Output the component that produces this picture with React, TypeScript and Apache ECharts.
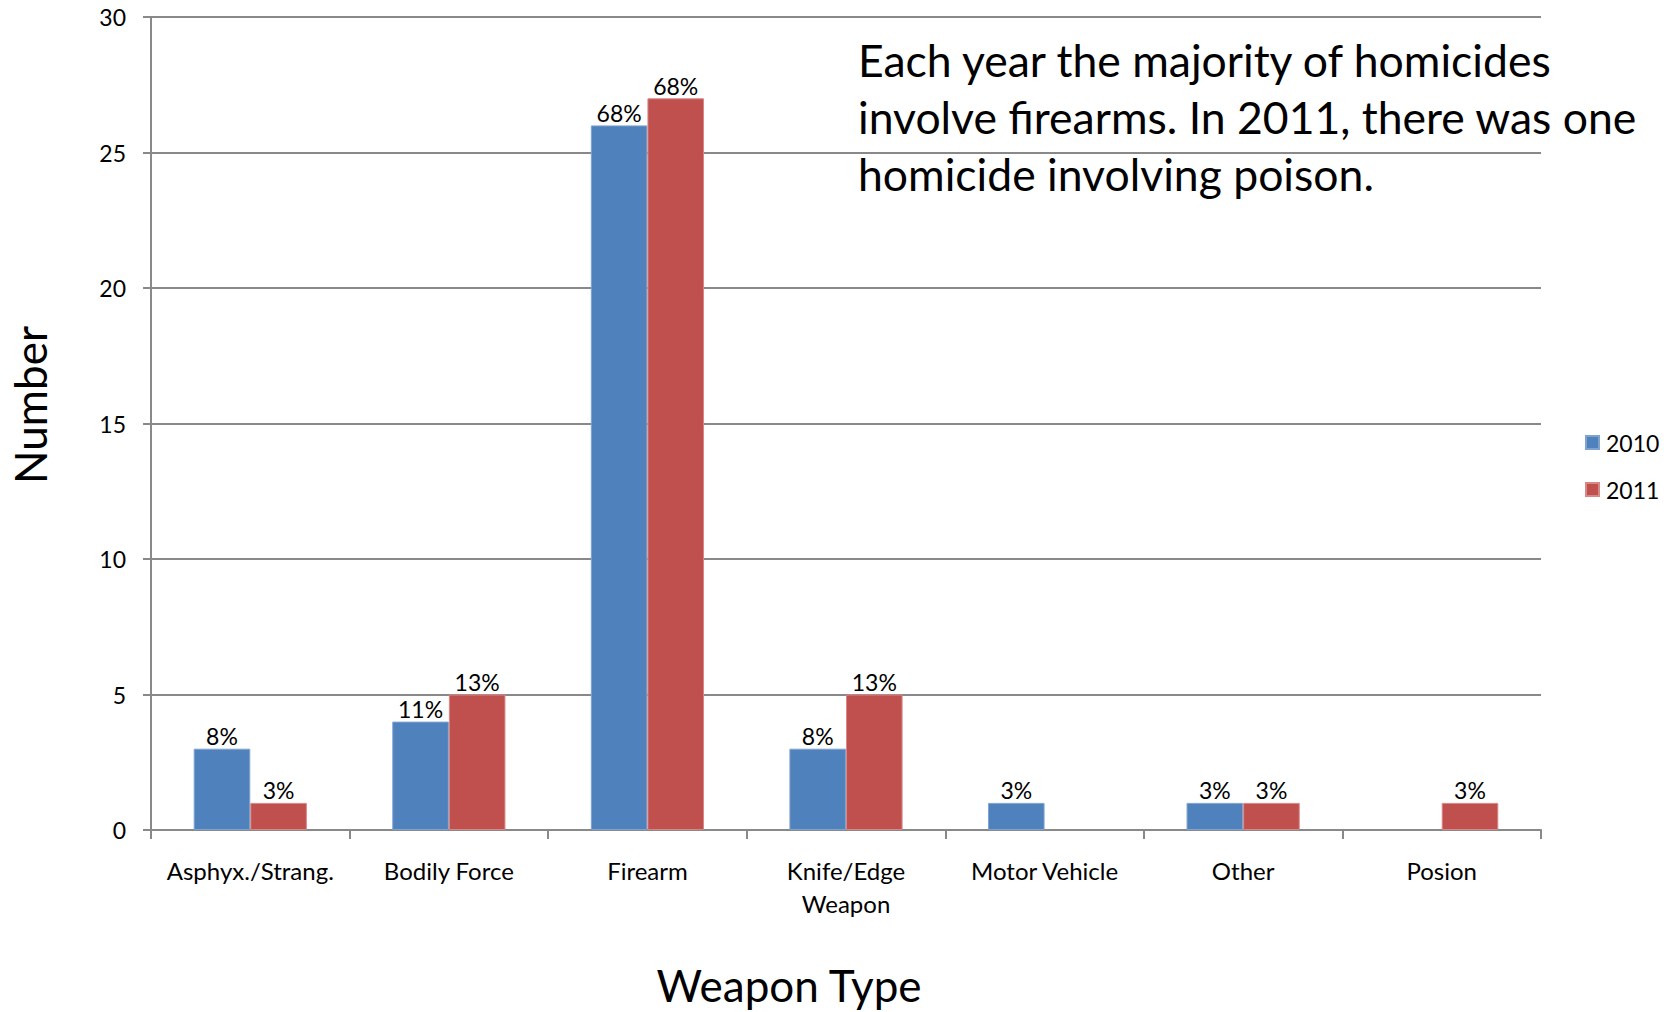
import React, { useEffect, useRef } from "react";
import * as echarts from "echarts";

const categories = [
  "Asphyx./Strang.",
  "Bodily Force",
  "Firearm",
  "Knife/Edge\nWeapon",
  "Motor Vehicle",
  "Other",
  "Posion",
];
const values2010: (number | null)[] = [3, 4, 26, 3, 1, 1, null];
const values2011: (number | null)[] = [1, 5, 27, 5, null, 1, 1];
const pct2010 = ["8%", "11%", "68%", "8%", "3%", "3%", ""];
const pct2011 = ["3%", "13%", "68%", "13%", "", "3%", "3%"];
const yTicks = { min: 0, max: 30, interval: 5 };
const annotation =
  "Each year the majority of homicides\ninvolve firearms. In 2011, there was one\nhomicide involving poison.";

const FONT = "Lato, 'Open Sans', sans-serif";
const GRID_COLOR = "#898989";

export default function App() {
  const ref = useRef<HTMLDivElement>(null);
  useEffect(() => {
    if (!ref.current) return;
    const chart = echarts.init(ref.current, undefined, { renderer: "svg" });
    const labelStyle = (arr: string[]) => ({
      show: true,
      position: "top" as const,
      distance: 1,
      color: "#000",
      fontFamily: FONT,
      fontSize: 23,
      formatter: (p: any) => arr[p.dataIndex],
    });
    chart.setOption({
      animation: false,
      backgroundColor: "#fff",
      textStyle: { fontFamily: FONT },
      grid: { left: 151, right: 129, top: 17, bottom: 182, containLabel: false },
      legend: {
        orient: "vertical",
        left: 1585,
        top: 431,
        padding: 0,
        itemWidth: 13,
        itemHeight: 13,
        itemGap: 24,
        icon: "rect",
        textStyle: { fontFamily: FONT, fontSize: 23, color: "#000", padding: [0, 0, 0, 2] },
        data: ["2010", "2011"],
      },
      xAxis: {
        type: "category",
        data: categories,
        axisLine: { lineStyle: { color: GRID_COLOR, width: 2 } },
        axisTick: { show: true, length: 9, lineStyle: { color: GRID_COLOR, width: 2 } },
        axisLabel: {
          color: "#000",
          fontFamily: FONT,
          fontSize: 24,
          lineHeight: 33,
          margin: 24,
          interval: 0,
        },
      },
      yAxis: {
        type: "value",
        min: yTicks.min,
        max: yTicks.max,
        interval: yTicks.interval,
        axisLine: { show: true, lineStyle: { color: GRID_COLOR, width: 2 } },
        axisTick: { show: true, length: 8, lineStyle: { color: GRID_COLOR, width: 2 } },
        splitLine: { show: true, lineStyle: { color: GRID_COLOR, width: 2 } },
        axisLabel: { color: "#000", fontFamily: FONT, fontSize: 23, margin: 25 },
      },
      series: [
        {
          name: "2010",
          type: "bar",
          data: values2010,
          barGap: "0%",
          barCategoryGap: "43%",
          itemStyle: { color: "#4F81BD", borderColor: "#7FA3CF", borderWidth: 1 },
          label: labelStyle(pct2010),
        },
        {
          name: "2011",
          type: "bar",
          data: values2011,
          barGap: "0%",
          barCategoryGap: "43%",
          itemStyle: { color: "#C0504D", borderColor: "#D68886", borderWidth: 1 },
          label: labelStyle(pct2011),
        },
      ],
      graphic: [
        {
          type: "text",
          left: 858,
          top: 31,
          style: {
            text: annotation,
            fontFamily: FONT,
            fontSize: 44.5,
            lineHeight: 57,
            fill: "#000",
          },
        },
        {
          type: "text",
          x: 30,
          y: 405,
          rotation: Math.PI / 2,
          style: {
            text: "Number",
            fontFamily: FONT,
            fontSize: 44,
            fill: "#000",
            align: "center",
            verticalAlign: "middle",
          },
        },
        {
          type: "text",
          x: 789,
          y: 985,
          style: {
            text: "Weapon Type",
            fontFamily: FONT,
            fontSize: 44,
            fill: "#000",
            align: "center",
            verticalAlign: "middle",
          },
        },
      ],
    });
    return () => chart.dispose();
  }, []);
  return (
    <div
      ref={ref}
      style={{ position: "fixed", left: 0, top: 0, width: 1670, height: 1012 }}
    />
  );
}
